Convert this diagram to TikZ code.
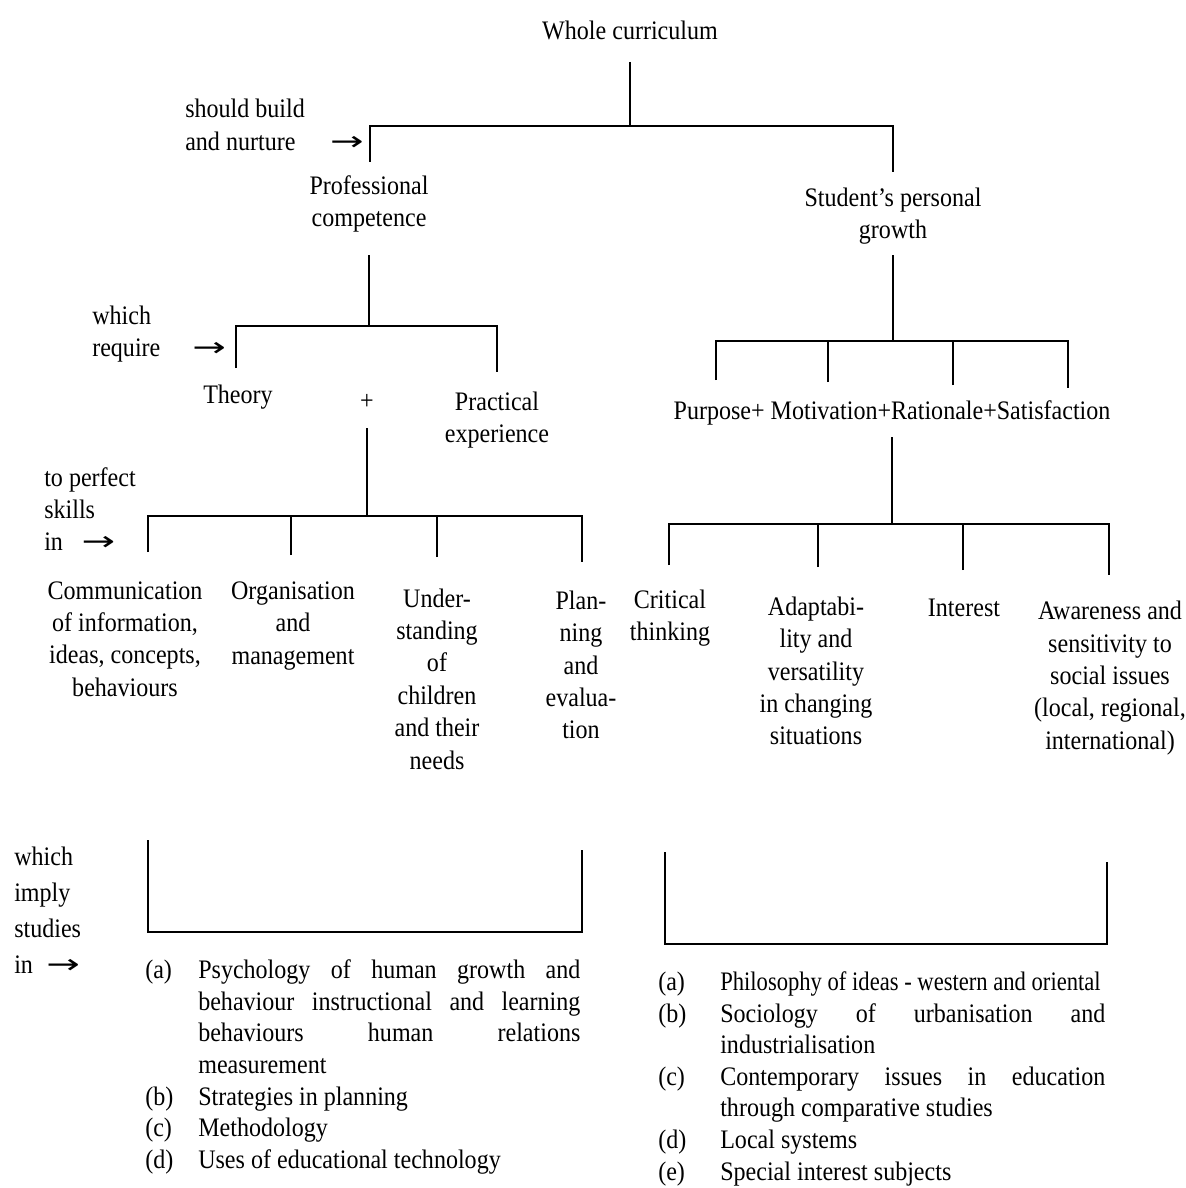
\documentclass[tikz,border=0pt]{standalone}
\usepackage{fontspec}
\setmainfont[FakeStretch=0.9]{Liberation Serif}
\newfontfamily\arrowfont{DejaVu Sans}
\usepackage{graphicx}
\newcommand\toarrow{\scalebox{1.5}[1]{\arrowfont →}}
\tikzset{
    lbl/.style={font=\fontsize{19}{23}\selectfont, align=center, inner sep=0pt},
    side/.style={lbl, align=left, anchor=west},
    lst/.style={font=\fontsize{19}{22.5}\selectfont, inner sep=0pt, anchor=north west},
    branch/.style={line width=1.4pt}
}
\begin{document}
\begin{tikzpicture}[x=0.025cm, y=-0.025cm]
    \useasboundingbox (0,0) rectangle (1185,1188);

    % Top level
    \node [lbl] (whole) at (630,30) {Whole curriculum};
    \node [side] (build) at (185,125) {should build\\and nurture\hspace{1.3em}\toarrow};
    \node [lbl] (prof) at (369,204) {Professional\\competence};
    \node [lbl] (student) at (893,216) {Student’s personal\\growth};
    \coordinate (whole-stem) at (630,62);
    \coordinate (whole-join) at (630,126);
    \coordinate (prof-top) at (370,162);
    \coordinate (student-top) at (893,172);
    \draw [branch] (whole-stem) -- (whole-join);
    \draw [branch] (prof-top) |- (whole-join) -| (student-top);

    % Professional competence
    \node [side] (require) at (92,334) {which\\require\hspace{1.2em}\toarrow};
    \node [lbl] (theory) at (238,397) {Theory};
    \node [lbl] (plus) at (367,402) {+};
    \node [lbl] (practical) at (497,420) {Practical\\experience};
    \coordinate (prof-stem) at (369,255);
    \coordinate (prof-join) at (369,326);
    \coordinate (theory-top) at (236,368);
    \coordinate (practical-top) at (497,372);
    \draw [branch] (prof-stem) -- (prof-join);
    \draw [branch] (theory-top) |- (prof-join) -| (practical-top);

    % Skills
    \node [side] (perfect) at (44,509) {to perfect\\skills\\in\hspace{0.7em}\toarrow};
    \node [lbl] (comm) at (125,639) {Communication\\of information,\\ideas, concepts,\\behaviours};
    \node [lbl] (org) at (293,626) {Organisation\\and\\management};
    \node [lbl] (under) at (437,679) {Under-\\standing\\of\\children\\and their\\needs};
    \node [lbl] (plan) at (581,665) {Plan-\\ning\\and\\evalua-\\tion};
    \coordinate (skill-stem) at (367,428);
    \coordinate (skill-join) at (367,516);
    \coordinate (comm-top) at (148,552);
    \coordinate (org-top) at (291,555);
    \coordinate (under-top) at (437,557);
    \coordinate (plan-top) at (582,562);
    \draw [branch] (skill-stem) -- (skill-join);
    \draw [branch] (comm-top) |- (skill-join) -| (plan-top);
    \draw [branch] (org-top) -- (org-top |- skill-join);
    \draw [branch] (under-top) -- (under-top |- skill-join);

    % Student's personal growth
    \node [lbl] (pmrs) at (892,413) {Purpose+ Motivation+Rationale+Satisfaction};
    \coordinate (student-stem) at (893,255);
    \coordinate (student-join) at (893,341);
    \coordinate (purpose-top) at (716,380);
    \coordinate (motiv-top) at (828,382);
    \coordinate (ration-top) at (953,385);
    \coordinate (satis-top) at (1068,388);
    \draw [branch] (student-stem) -- (student-join);
    \draw [branch] (purpose-top) |- (student-join) -| (satis-top);
    \draw [branch] (motiv-top) -- (motiv-top |- student-join);
    \draw [branch] (ration-top) -- (ration-top |- student-join);

    % Qualities
    \node [lbl] (critical) at (670,618) {Critical\\thinking};
    \node [lbl] (adapt) at (816,671) {Adaptabi-\\lity and\\versatility\\in changing\\situations};
    \node [lbl] (interest) at (964,608) {Interest};
    \node [lbl] (aware) at (1110,678) {Awareness and\\sensitivity to\\social issues\\(local, regional,\\international)};
    \coordinate (quality-stem) at (892,437);
    \coordinate (quality-join) at (892,524);
    \coordinate (critical-top) at (669,565);
    \coordinate (adapt-top) at (818,567);
    \coordinate (interest-top) at (963,570);
    \coordinate (aware-top) at (1109,575);
    \draw [branch] (quality-stem) -- (quality-join);
    \draw [branch] (critical-top) |- (quality-join) -| (aware-top);
    \draw [branch] (adapt-top) -- (adapt-top |- quality-join);
    \draw [branch] (interest-top) -- (interest-top |- quality-join);

    % Studies
    \node [side, font=\fontsize{19}{25.5}\selectfont] (imply) at (14,910) {which\\imply\\studies\\in\hspace{0.5em}\toarrow};
    \coordinate (studyl-a) at (148,840);
    \coordinate (studyl-b) at (582,850);
    \coordinate (studyl-join) at (365,932);
    \coordinate (studyr-a) at (665,852);
    \coordinate (studyr-b) at (1107,862);
    \coordinate (studyr-join) at (886,944);
    \draw [branch] (studyl-a) |- (studyl-join) -| (studyl-b);
    \draw [branch] (studyr-a) |- (studyr-join) -| (studyr-b);

    \node [lst] (studyl) at (145,956) {%
    \begin{tabular}{@{}p{1.325cm}@{}p{9.55cm}@{}}
    (a) & Psychology of human growth and\linebreak behaviour instructional and learning\linebreak behaviours human relations\linebreak measurement\\
    (b) & Strategies in planning\\
    (c) & Methodology\\
    (d) & Uses of educational technology
    \end{tabular}};
    \node [lst] (studyr) at (658,968) {%
    \begin{tabular}{@{}p{1.55cm}@{}p{9.625cm}@{}}
    (a) & \scalebox{0.94}[1]{Philosophy of ideas - western and oriental}\\
    (b) & Sociology of urbanisation and\linebreak industrialisation\\
    (c) & Contemporary issues in education\linebreak through comparative studies\\
    (d) & Local systems\\
    (e) & Special interest subjects
    \end{tabular}};
\end{tikzpicture}
\end{document}
